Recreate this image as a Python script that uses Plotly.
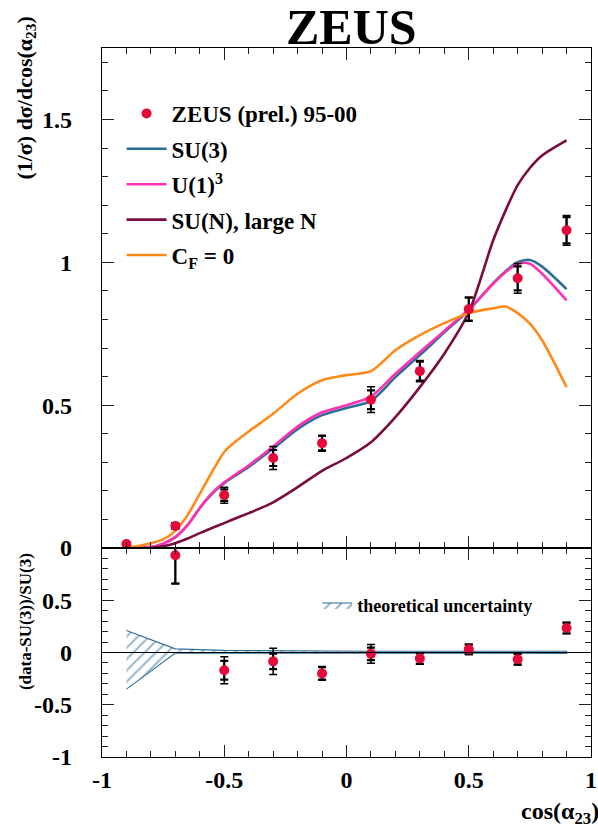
import plotly.graph_objects as go

# ---------------- data ----------------
x_pts = [-0.9, -0.7, -0.5, -0.3, -0.1, 0.1, 0.3, 0.5, 0.7, 0.9]
y_data = [0.014, 0.077, 0.185, 0.315, 0.367, 0.519, 0.619, 0.836, 0.944, 1.112]
y_stat = [0.005, 0.01, 0.02, 0.028, 0.025, 0.033, 0.033, 0.04, 0.042, 0.046]
y_tot = [0.005, 0.01, 0.028, 0.040, 0.028, 0.045, 0.037, 0.042, 0.052, 0.052]

x_curve = [-0.9, -0.8, -0.75, -0.7, -0.65, -0.6, -0.55, -0.5, -0.45, -0.4, -0.3, -0.2, -0.1, 0.0,
           0.1, 0.2, 0.3, 0.4, 0.5, 0.6, 0.65, 0.7, 0.75, 0.8, 0.9]
su3 = [0.0, 0.003, 0.015, 0.038, 0.08, 0.14, 0.19, 0.227, 0.256, 0.284, 0.348, 0.416, 0.465, 0.49,
       0.515, 0.598, 0.675, 0.755, 0.832, 0.927, 0.968, 1.0, 1.008, 0.985, 0.906]
u13 = [0.0, 0.003, 0.015, 0.038, 0.08, 0.14, 0.192, 0.23, 0.26, 0.289, 0.355, 0.425, 0.475, 0.50,
       0.53, 0.61, 0.685, 0.76, 0.835, 0.925, 0.965, 0.995, 0.995, 0.96, 0.867]
sun = [0.0, 0.0, 0.006, 0.017, 0.033, 0.052, 0.07, 0.087, 0.105, 0.122, 0.16, 0.213, 0.27, 0.315,
       0.37, 0.458, 0.563, 0.68, 0.825, 1.077, 1.18, 1.27, 1.33, 1.374, 1.427]
cf0 = [0.0, 0.017, 0.03, 0.06, 0.115, 0.19, 0.266, 0.336, 0.375, 0.408, 0.47, 0.54, 0.587, 0.605,
       0.619, 0.692, 0.745, 0.787, 0.822, 0.839, 0.845, 0.822, 0.785, 0.727, 0.563]

x_ratio = [-0.7, -0.5, -0.3, -0.1, 0.1, 0.3, 0.5, 0.7, 0.9]
ratio = [0.93, -0.17, -0.085, -0.20, -0.013, -0.058, 0.03, -0.064, 0.234]
ratio_stat = [0.27, 0.09, 0.075, 0.06, 0.06, 0.05, 0.045, 0.05, 0.05]
ratio_tot = [0.27, 0.13, 0.125, 0.065, 0.09, 0.055, 0.05, 0.055, 0.055]

band_x = [-0.9, -0.7, -0.5, -0.3, -0.1, 0.1, 0.3, 0.5, 0.7, 0.9]
band_up = [0.21, 0.035, 0.02, 0.015, 0.013, 0.012, 0.012, 0.012, 0.012, 0.012]
band_lo = [-0.35, -0.005, -0.008, -0.008, -0.008, -0.008, -0.008, -0.008, -0.008, -0.008]

# ---------------- style ----------------
SERIF = "Liberation Serif"
C_DATA = "#e4093b"
C_SU3 = "#2d6e96"
C_U1 = "#ff30b4"
C_SUN = "#7a0c40"
C_CF = "#ff8a17"

fig = go.Figure()

# theory band (lower panel) as a closed polygon
poly_x = band_x + band_x[::-1]
poly_y = band_up + band_lo[::-1]
fig.add_trace(go.Scatter(x=poly_x, y=poly_y, mode="lines", line=dict(color=C_SU3, width=1.1),
                         fill="toself", fillcolor="white",
                         fillpattern=dict(shape="/", fgcolor=C_SU3, bgcolor="white", size=8, solidity=0.25),
                         name="theoretical uncertainty", legend="legend2",
                         xaxis="x2", yaxis="y2", hoverinfo="skip"))

# curves (upper panel)
for name, vals, col in [("SU(3)", su3, C_SU3), ("U(1)<sup>3</sup>", u13, C_U1),
                        ("SU(N), large N", sun, C_SUN), ("C<sub>F</sub> = 0", cf0, C_CF)]:
    fig.add_trace(go.Scatter(x=x_curve, y=vals, mode="lines", name=name,
                             line=dict(color=col, width=2.6, shape="spline", smoothing=0.8),
                             legendgroup=name, xaxis="x", yaxis="y"))

# data (upper)
fig.add_trace(go.Scatter(x=x_pts, y=y_data, mode="markers", showlegend=False,
                         marker=dict(color="rgba(0,0,0,0)", size=1),
                         error_y=dict(type="data", array=y_tot, color="black", thickness=1.5, width=4),
                         xaxis="x", yaxis="y"))
fig.add_trace(go.Scatter(x=x_pts, y=y_data, mode="markers", name="ZEUS (prel.) 95-00",
                         marker=dict(color=C_DATA, size=10),
                         error_y=dict(type="data", array=y_stat, color="black", thickness=2.2, width=4),
                         legendgroup="data", legendrank=1, xaxis="x", yaxis="y"))

# data (lower)
fig.add_trace(go.Scatter(x=x_ratio, y=ratio, mode="markers", showlegend=False,
                         marker=dict(color="rgba(0,0,0,0)", size=1),
                         error_y=dict(type="data", array=ratio_tot, color="black", thickness=1.5, width=4),
                         xaxis="x2", yaxis="y2"))
fig.add_trace(go.Scatter(x=x_ratio, y=ratio, mode="markers", showlegend=False,
                         marker=dict(color=C_DATA, size=10),
                         error_y=dict(type="data", array=ratio_stat, color="black", thickness=2.2, width=4),
                         xaxis="x2", yaxis="y2"))

tickfont = dict(family=SERIF, size=24, color="black", weight="bold")
common = dict(showline=True, linecolor="black", linewidth=1.2, mirror="allticks",
              ticks="inside", ticklen=12, tickwidth=1.2, tickcolor="#222",
              showgrid=False, zeroline=False, tickfont=tickfont)
minor = dict(ticks="inside", ticklen=6, tickwidth=1.2, tickcolor="#222", dtick=0.1, showgrid=False)

split = 209 / 709
fig.update_layout(
    width=598, height=828,
    margin=dict(l=102, r=1, t=48, b=71),
    paper_bgcolor="white", plot_bgcolor="white",
    xaxis=dict(range=[-1, 1], domain=[0, 1], anchor="y", showticklabels=False,
               tickvals=[-1, -0.5, 0, 0.5, 1], minor=minor, **common),
    yaxis=dict(range=[0, 1.75], domain=[split, 1], anchor="x",
               tickvals=[0, 0.5, 1, 1.5], ticktext=["0", "0.5", "1", "1.5"],
               ticklabelstandoff=24, minor=minor, **common),
    xaxis2=dict(range=[-1, 1], domain=[0, 1], anchor="y2",
                tickvals=[-1, -0.5, 0, 0.5, 1], ticktext=["-1", "-0.5", "0", "0.5", "1"],
                ticklabelstandoff=1, ticklabeloverflow="allow", minor=minor, **common),
    yaxis2=dict(range=[-1, 1], domain=[0, split], anchor="x2",
                tickvals=[-1, -0.5, 0, 0.5], ticktext=["-1", "-0.5", "0", "0.5"],
                ticklabelstandoff=24, minor=minor, **common),
    legend=dict(x=0.04, y=0.938, xanchor="left", yanchor="top", bgcolor="rgba(0,0,0,0)",
                font=dict(family=SERIF, size=23, color="black", weight="bold"),
                traceorder="grouped", tracegroupgap=2.5, itemwidth=40),
    legend2=dict(x=0.44, y=0.214, xanchor="left", yanchor="middle", bgcolor="rgba(0,0,0,0)",
                 font=dict(family=SERIF, size=18, color="black", weight="bold")),
    showlegend=True,
)

# zero line in ratio panel
fig.add_shape(type="line", xref="x2 domain", yref="y2", x0=0, x1=1, y0=0, y1=0,
              line=dict(color="black", width=1.2))

fig.add_annotation(text="ZEUS", xref="paper", yref="paper", x=0.51, y=1.03,
                   xanchor="center", yanchor="middle", showarrow=False,
                   font=dict(family=SERIF, size=50, color="black", weight="bold"))
fig.add_annotation(text="(1/σ) dσ/dcos(α<sub>23</sub>)", xref="paper", yref="paper",
                   x=(24 - 102) / 496, y=(757 - 15) / 709, xanchor="center", yanchor="top",
                   textangle=-90, showarrow=False,
                   font=dict(family=SERIF, size=22, color="black", weight="bold"))
fig.add_annotation(text="(data-SU(3))/SU(3)", xref="paper", yref="paper",
                   x=(24 - 102) / 496, y=(757 - 622) / 709, xanchor="center", yanchor="middle",
                   textangle=-90, showarrow=False,
                   font=dict(family=SERIF, size=17, color="black", weight="bold"))
fig.add_annotation(text="cos(α<sub>23</sub>)", xref="paper", yref="paper",
                   x=1.02, y=(757 - 813) / 709, xanchor="right", yanchor="middle", showarrow=False,
                   font=dict(family=SERIF, size=24, color="black", weight="bold"))

fig.write_html("out.html")
